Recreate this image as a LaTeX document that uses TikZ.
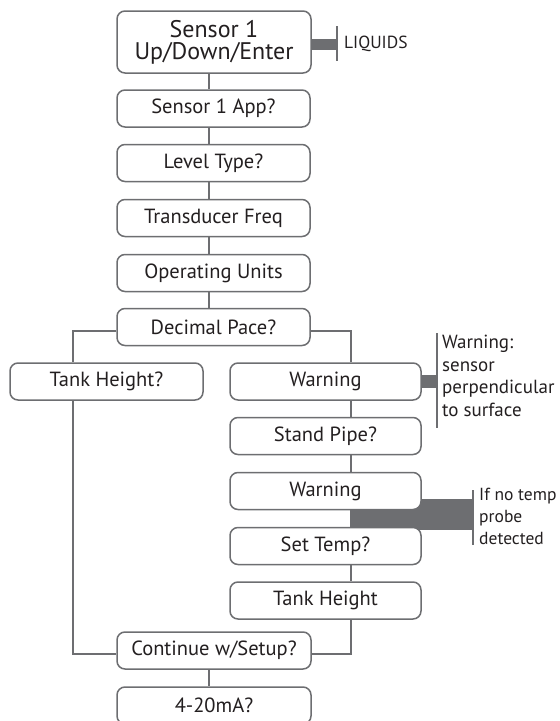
\documentclass[tikz,border=0pt]{standalone}
\usepackage{fontspec}
\setmainfont{PT Sans}
\usetikzlibrary{backgrounds}
\definecolor{bc}{HTML}{6D6E71}
\definecolor{tc}{HTML}{231F20}
\begin{document}
\begin{tikzpicture}[x=1pt,y=-1pt,
  box/.style={draw=bc, line width=1.5pt, rounded corners=8pt, fill=white,
    minimum width=193pt, minimum height=37pt, inner sep=0pt, text=tc,
    font=\fontsize{20.5}{22}\selectfont},
  conn/.style={draw=bc, line width=1.4pt},
  note/.style={text=tc, inner sep=0pt, font=\fontsize{19}{22.5}\selectfont},
  notebar/.style={draw=bc, line width=1.6pt}]
\useasboundingbox (0,0) rectangle (560,721);
\clip (0,0) rectangle (560,721);
\coordinate (mx) at (209,0);
\coordinate (rx) at (351,0);
\coordinate (lx) at (73,0);
\coordinate (jy) at (0,331);
\coordinate (cy) at (0,654);

\node[box, minimum width=194pt, minimum height=62pt, align=center,
  font=\fontsize{24}{22}\selectfont] (s0) at (214,42) {Sensor 1\\Up/Down/Enter};
\node[box] (s1) at (213.5,108.5) {Sensor 1 App?};
\node[box] (s2) at (213.5,163) {Level Type?};
\node[box] (s3) at (213.5,218) {Transducer Freq};
\node[box] (s4) at (213.5,273) {Operating Units};
\node[box] (s5) at (213.5,327) {Decimal Pace?};
\node[box] (tl) at (106.5,381.5) {Tank Height?};
\node[box, minimum width=191pt] (w1) at (325.5,381.5) {Warning};
\node[box, minimum width=191pt] (sp) at (325.5,436) {Stand Pipe?};
\node[box, minimum width=191pt] (w2) at (325.5,491) {Warning};
\node[box, minimum width=191pt] (st) at (325.5,546) {Set Temp?};
\node[box, minimum width=191pt] (th) at (325.5,600.5) {Tank Height};
\node[box, minimum width=194pt] (co) at (214,650.5) {Continue w/Setup?};
\node[box, minimum width=194pt] (ma) at (214,705.5) {4-20mA?};

\node[note, anchor=west, font=\fontsize{17.5}{22}\selectfont] (liq) at (344,44) {LIQUIDS};
\node[note, anchor=north west, align=left] (n1) at (442,335) {Warning:\\sensor\\perpendicular\\to surface};
\node[note, anchor=north west, align=left, font=\fontsize{17.5}{22}\selectfont] (n2) at (479,488) {If no temp\\probe\\detected};

\begin{scope}[on background layer]
  \draw[conn] (s0.south -| mx) -- (s1.north -| mx);
  \draw[conn] (s1.south -| mx) -- (s2.north -| mx);
  \draw[conn] (s2.south -| mx) -- (s3.north -| mx);
  \draw[conn] (s3.south -| mx) -- (s4.north -| mx);
  \draw[conn] (s4.south -| mx) -- (s5.north -| mx);
  \draw[conn] (s5.west |- jy) -| (tl.north -| lx);
  \draw[conn] (s5.east |- jy) -| (w1.north -| rx);
  \draw[conn] (w1.south -| rx) -- (sp.north -| rx);
  \draw[conn] (sp.south -| rx) -- (w2.north -| rx);
  \draw[conn] (w2.south -| rx) -- (st.north -| rx);
  \draw[conn] (st.south -| rx) -- (th.north -| rx);
  \draw[conn] (tl.south -| lx) |- (co.west |- cy);
  \draw[conn] (th.south -| rx) |- (co.east |- cy);
  \draw[conn] (co.south -| mx) -- (ma.north -| mx);
  % note bands
  \fill[bc] (s0.east |- 0,39) rectangle (337,50);
  \draw[notebar] (337,26) -- (337,61);
  \fill[bc] (w1.east |- 0,375) rectangle (437,388);
  \draw[notebar] (437,333) -- (437,428);
  \fill[bc] (rx |- 0,499) rectangle (473,530);
  \draw[notebar] (473,490) -- (473,545);
\end{scope}
\end{tikzpicture}
\end{document}
